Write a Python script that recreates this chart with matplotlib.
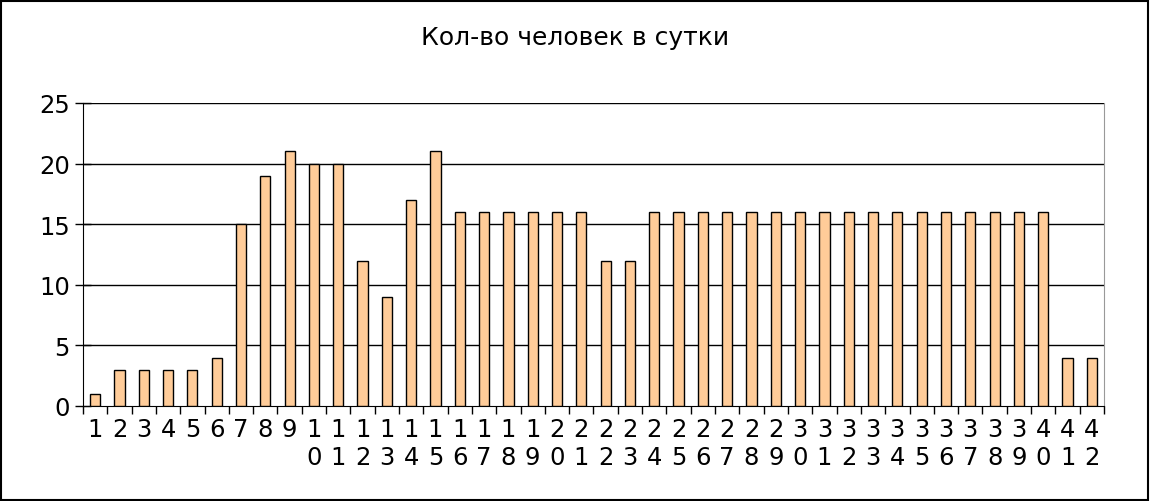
import matplotlib
matplotlib.use("Agg")
import matplotlib.pyplot as plt
import numpy as np
from matplotlib.patches import Rectangle

# Данные: количество человек по суткам
days = list(range(1, 43))
people = [1, 3, 3, 3, 3, 4, 15, 19, 21, 20,
          20, 12, 9, 17, 21, 16, 16, 16, 16, 16,
          16, 12, 12, 16, 16, 16, 16, 16, 16, 16,
          16, 16, 16, 16, 16, 16, 16, 16, 16, 16,
          4, 4]
yticks = [0, 5, 10, 15, 20, 25]
title = "Кол-во человек в сутки"

fig = plt.figure(figsize=(11.5, 5.02), dpi=100)
ax = fig.add_axes([83 / 1150, 1 - 407 / 502, (1104 - 83) / 1150, (407 - 104) / 502])

x = np.arange(len(days))
ax.bar(x, people, width=0.42, color="#FFCC99", edgecolor="black", linewidth=1, zorder=3)

ax.set_xlim(-0.5, len(days) - 0.5)
ax.set_ylim(0, 25)
ax.set_yticks(yticks)
ax.set_yticklabels([str(v) for v in yticks], fontsize=17.5)
for v in yticks[1:]:
    ax.axhline(v, color="black", linewidth=1, zorder=1)

# вертикальные подписи: цифры друг под другом
ax.set_xticks(x)
ax.set_xticklabels(["\n".join(str(d)) for d in days], fontsize=17.5, linespacing=1.22,
                   va="top")
ax.tick_params(axis="x", which="major", length=0, pad=8)
ax.set_xticks(np.arange(-0.5, len(days)), minor=True)
ax.tick_params(axis="x", which="minor", length=6, width=1, direction="out")
ax.tick_params(axis="y", length=11, width=1, direction="inout", pad=4)

ax.spines["top"].set_visible(False)
ax.spines["right"].set_color("#999999")
ax.spines["left"].set_color("black")
ax.spines["bottom"].set_color("black")

fig.text(0.5, 1 - 38 / 502, title, ha="center", va="center", fontsize=18)

fig.patches.append(Rectangle((0.001, 0.002), 0.997, 0.995, transform=fig.transFigure,
                             fill=False, edgecolor="black", linewidth=1.5))

fig.savefig("out.png", dpi=100)
